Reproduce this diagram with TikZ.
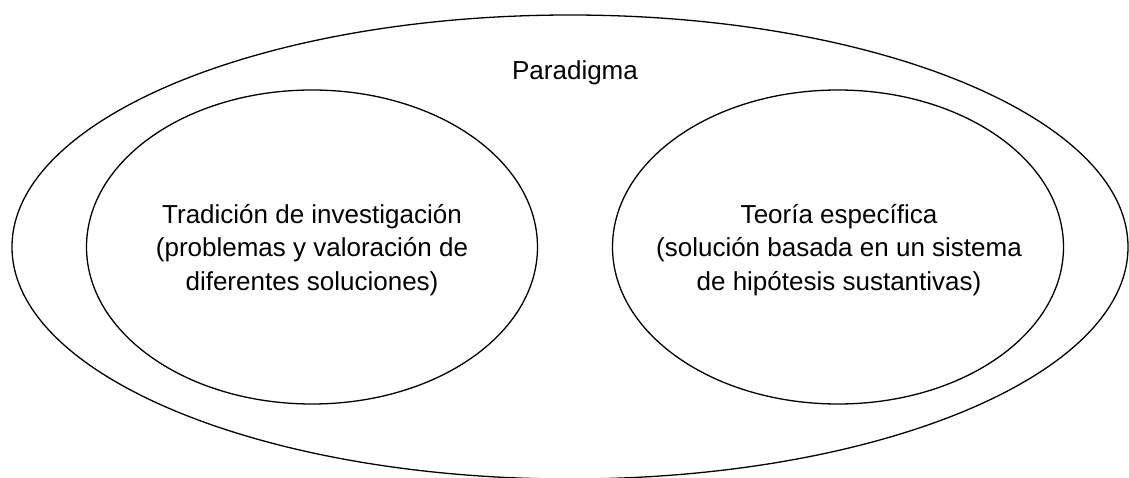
\documentclass[tikz,border=0pt]{standalone}
\usepackage{fontspec}
\setmainfont{Liberation Sans}
\usetikzlibrary{shapes.geometric}
\begin{document}
\begin{tikzpicture}[x=1pt,y=-1pt,
  ring/.style={draw=black, line width=1.3pt, ellipse, inner sep=0pt},
  lbl/.style={font=\fontsize{26}{33.5}\selectfont, align=center, inner sep=0pt}]
\useasboundingbox (0,0) rectangle (1129,478);
\node[ring, minimum width=1116pt, minimum height=464pt] (outer) at (570,247) {};
\node[ring, minimum width=451pt, minimum height=314pt] (left) at (312,247) {};
\node[ring, minimum width=451pt, minimum height=314pt] (right) at (838,247) {};
\node[lbl, anchor=base] (par) at (575,80) {Paradigma};
\node[lbl] (ltxt) at (312,250) {Tradición de investigación\\(problemas y valoración de\\diferentes soluciones)};
\node[lbl] (rtxt) at (839,250) {Teoría específica\\(solución basada en un sistema\\de hipótesis sustantivas)};
\end{tikzpicture}
\end{document}
